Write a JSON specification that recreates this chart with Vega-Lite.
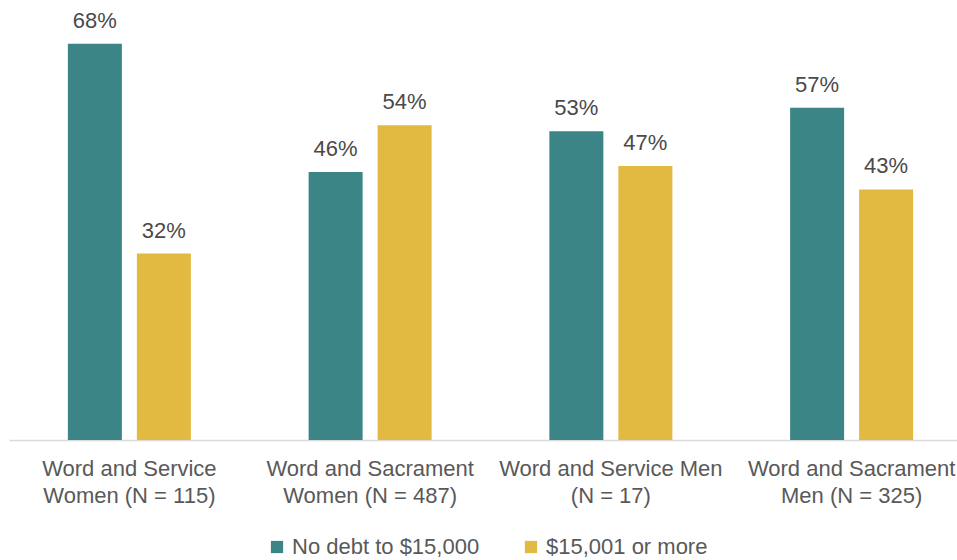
{
  "$schema": "https://vega.github.io/schema/vega-lite/v6.json",
  "width": 948,
  "height": 440,
  "autosize": {"type": "none"},
  "padding": {"left": 9, "top": 0, "right": 0, "bottom": 120},
  "background": "white",
  "config": {
    "view": {"stroke": null},
    "font": "Liberation Sans"
  },
  "data": {
    "values": [
      {"group": "Word and Service|Women (N = 115)", "series": "No debt to $15,000", "share": 0.68},
      {"group": "Word and Service|Women (N = 115)", "series": "$15,001 or more", "share": 0.32},
      {"group": "Word and Sacrament|Women (N = 487)", "series": "No debt to $15,000", "share": 0.46},
      {"group": "Word and Sacrament|Women (N = 487)", "series": "$15,001 or more", "share": 0.54},
      {"group": "Word and Service Men|(N = 17)", "series": "No debt to $15,000", "share": 0.53},
      {"group": "Word and Service Men|(N = 17)", "series": "$15,001 or more", "share": 0.47},
      {"group": "Word and Sacrament|Men (N = 325)", "series": "No debt to $15,000", "share": 0.57},
      {"group": "Word and Sacrament|Men (N = 325)", "series": "$15,001 or more", "share": 0.43}
    ]
  },
  "encoding": {
    "x": {
      "field": "group",
      "type": "nominal",
      "sort": null,
      "scale": {"range": [0, 963], "paddingInner": 0.489, "paddingOuter": 0.2445},
      "axis": {
        "title": null,
        "labelAngle": 0,
        "labelExpr": "split(datum.label, '|')",
        "labelFontSize": 22,
        "labelColor": "#595959",
        "labelBaseline": "top",
        "labelPadding": 18,
        "labelLineHeight": 27,
        "labelLimit": 400,
        "ticks": false,
        "domainColor": "#d9d9d9",
        "domainWidth": 1.5
      }
    },
    "xOffset": {
      "field": "series",
      "type": "nominal",
      "sort": ["No debt to $15,000", "$15,001 or more"],
      "scale": {"range": [0, 123], "paddingInner": 0.2174, "paddingOuter": 0}
    },
    "y": {
      "field": "share",
      "type": "quantitative",
      "scale": {"domain": [0, 0.755], "nice": false},
      "axis": null
    }
  },
  "layer": [
    {
      "mark": {"type": "bar"},
      "encoding": {
        "color": {
          "field": "series",
          "type": "nominal",
          "sort": ["No debt to $15,000", "$15,001 or more"],
          "scale": {"domain": ["No debt to $15,000", "$15,001 or more"], "range": ["#3B8586", "#E2B941"]},
          "legend": {
            "title": null,
            "orient": "none",
            "direction": "horizontal",
            "legendX": 257,
            "legendY": 536,
            "symbolType": "square",
            "symbolSize": 150,
            "symbolStrokeWidth": 0,
            "labelFontSize": 22,
            "labelColor": "#595959",
            "labelOffset": 4,
            "columnPadding": 40,
            "labelLimit": 400
          }
        }
      }
    },
    {
      "mark": {"type": "text", "baseline": "alphabetic", "dy": -16, "fontSize": 22, "color": "#4a4a4a"},
      "encoding": {
        "text": {"field": "share", "type": "quantitative", "format": ".0%"},
        "detail": {"field": "series"}
      }
    }
  ]
}
